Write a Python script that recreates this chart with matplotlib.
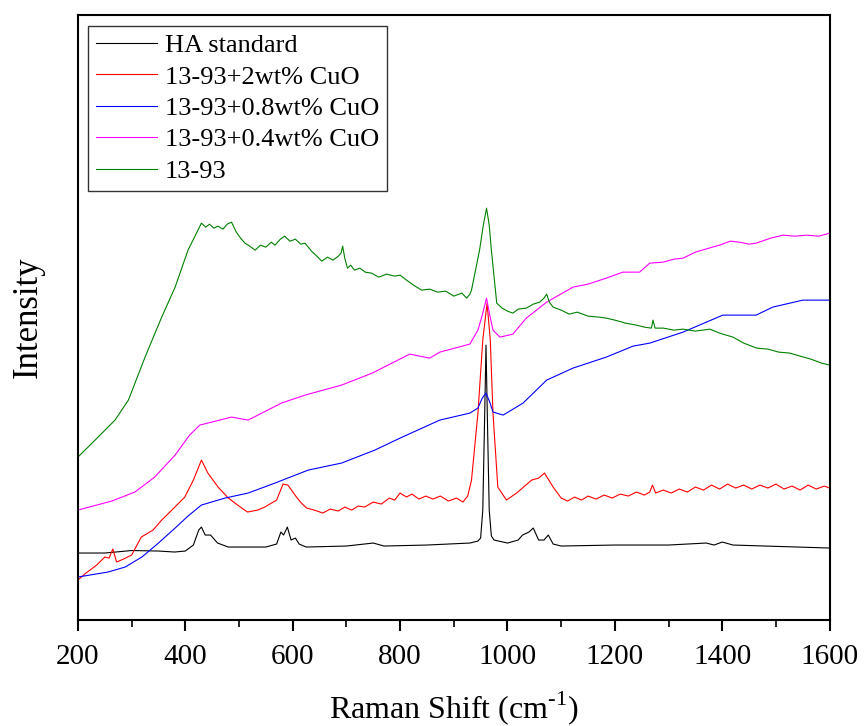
import matplotlib
matplotlib.use('Agg')
import matplotlib.pyplot as plt
from matplotlib.ticker import MultipleLocator

plt.rcParams['font.family'] = ['Liberation Serif', 'DejaVu Serif']
plt.rcParams['mathtext.fontset'] = 'custom'
plt.rcParams['mathtext.rm'] = 'Liberation Serif'

# Raman shift (cm-1) and intensity (a.u.)
black_x = [200, 250, 300, 350, 380, 400, 415, 425, 430, 437, 447, 460, 480, 550, 570, 578, 583,
           590, 597, 605, 612, 625, 700, 750, 770, 850, 930, 945, 950, 954, 957, 960, 963, 966,
           970, 975, 1000, 1020, 1028, 1040, 1048, 1058, 1068, 1076, 1085, 1100, 1200, 1300,
           1370, 1385, 1400, 1420, 1600]
black_y = [67, 67, 69.5, 69, 68, 69, 75, 90, 93, 85, 85, 77, 73, 73, 76, 88, 85,
           93, 80, 82, 76, 73, 74, 77, 74, 75, 77, 79, 82, 110, 190, 275, 190, 110,
           84, 80, 77, 80, 85, 88, 92, 80, 80, 85, 76, 74, 75, 75,
           77, 75, 78, 75, 72]

red_x = [200, 215, 235, 250, 258, 265, 272, 285, 300, 318, 340, 356, 375, 399, 415, 430, 442,
         461, 480, 505, 516, 535, 548, 570, 582, 591, 607, 616, 626, 640, 656, 670, 685, 697,
         710, 722, 734, 750, 765, 780, 790, 800, 812, 822, 835, 848, 861, 875, 890, 905, 917,
         926, 933, 945, 954, 962, 968, 973, 982, 998, 1017, 1030, 1045, 1058, 1069, 1085,
         1100, 1112, 1125, 1138, 1150, 1165, 1180, 1195, 1210, 1225, 1240, 1255, 1265, 1270,
         1276, 1290, 1305, 1320, 1335, 1350, 1365, 1380, 1395, 1410, 1425, 1440, 1455, 1470,
         1485, 1500, 1515, 1530, 1545, 1560, 1575, 1590, 1600]
red_y = [40, 47, 55, 63, 62, 71, 58, 61, 65, 83, 90, 100, 110, 123, 140, 160, 147,
         133, 122, 112, 108, 110, 113, 120, 136, 135, 123, 117, 112, 110, 107, 111, 109, 113,
         110, 114, 113, 118, 116, 122, 120, 127, 123, 126, 121, 124, 121, 124, 119, 122, 118,
         124, 140, 207, 280, 317, 280, 207, 133, 120, 127, 133, 140, 142, 147, 133,
         122, 119, 123, 120, 124, 121, 125, 122, 126, 124, 128, 125, 128, 135,
         127, 130, 127, 131, 128, 133, 130, 135, 131, 136, 132, 135, 131, 135,
         132, 136, 131, 134, 130, 135, 131, 134, 132]

blue_x = [200, 256, 288, 319, 350, 381, 405, 430, 474, 517, 567, 629, 691, 753, 800, 874, 930,
          945, 953, 960, 967, 973, 992, 1029, 1073, 1122, 1184, 1234, 1265, 1327, 1401, 1463,
          1494, 1550, 1600]
blue_y = [43, 48, 53, 63, 77, 92, 104, 115, 122, 127, 137, 150, 157, 170, 182, 200, 207,
          212, 222, 227, 218, 208, 205, 217, 240, 252, 263, 274, 277, 288, 305, 305,
          313, 320, 320]

mag_x = [200, 263, 306, 343, 381, 408, 427, 486, 517, 579, 623, 691, 748, 818, 855, 874, 930,
         945, 953, 961, 967, 973, 986, 1010, 1035, 1073, 1122, 1150, 1184, 1215, 1246, 1265,
         1290, 1310, 1327, 1350, 1375, 1395, 1415, 1432, 1450, 1463, 1490, 1513, 1535, 1557,
         1580, 1600]
mag_y = [110, 119, 128, 143, 165, 185, 195, 203, 200, 217, 225, 235, 247, 266, 262, 268, 276,
         290, 305, 322, 305, 290, 283, 286, 302, 318, 333, 336, 342, 348, 348, 357,
         358, 361, 362, 368, 372, 375, 379, 378, 376, 377, 382, 385, 384, 385,
         384, 387]

green_x = [200, 232, 269, 294, 325, 356, 381, 405, 430, 438, 445, 453, 461, 470, 478, 486, 495,
           503, 511, 520, 530, 540, 550, 560, 567, 577, 585, 595, 605, 615, 623, 635, 645, 654,
           665, 675, 685, 690, 693, 697, 702, 708, 715, 725, 735, 747, 760, 775, 790, 800, 812,
           825, 840, 855, 870, 885, 900, 915, 924, 930, 933, 948, 955, 961, 966, 970, 980, 990,
           1000, 1010, 1020, 1035, 1048, 1060, 1068, 1073, 1078, 1085, 1100, 1115, 1130, 1150,
           1170, 1184, 1200, 1220, 1240, 1255, 1268, 1271, 1275, 1290, 1310, 1327, 1350, 1377,
           1395, 1420, 1440, 1464, 1485, 1505, 1526, 1545, 1565, 1585, 1600]
green_y = [163, 180, 200, 220, 263, 303, 333, 370, 397, 393, 396, 392, 394, 391, 396, 398, 388,
           382, 377, 374, 370, 375, 373, 378, 375, 381, 384, 379, 381, 376, 377, 369, 364, 359,
           363, 360, 364, 367, 374, 362, 352, 355, 350, 352, 348, 347, 343, 346, 344, 345, 340,
           335, 330, 331, 328, 329, 324, 327, 322, 326, 330, 370, 395, 412, 395, 370, 317, 312,
           309, 307, 311, 312, 316, 318, 322, 326, 318, 313, 310, 306, 308, 304,
           303, 302, 300, 297, 295, 293, 292, 300, 292, 292, 290, 291, 289, 291,
           287, 283, 277, 272, 271, 268, 267, 264, 261, 257, 255]

labels = ['HA standard', '13-93+2wt% CuO', '13-93+0.8wt% CuO', '13-93+0.4wt% CuO', '13-93']
colors = ['black', 'red', 'blue', 'magenta', 'green']

fig = plt.figure(figsize=(8.66, 7.26), dpi=100)
ax = fig.add_axes([0.090, 0.146, 0.868, 0.833])

series = [(black_x, black_y), (red_x, red_y), (blue_x, blue_y), (mag_x, mag_y), (green_x, green_y)]
for (x, y), c, lab in zip(series, colors, labels):
    ax.plot(x, y, color=c, lw=0.8, label=lab)

ax.set_xlim(200, 1600)
ax.set_ylim(0, 605)
ax.xaxis.set_major_locator(MultipleLocator(200))
ax.xaxis.set_minor_locator(MultipleLocator(100))
ax.tick_params(axis='x', which='major', direction='out', length=8, width=1.5, labelsize=21, pad=9)
ax.tick_params(axis='x', which='minor', direction='out', length=5, width=1.2)
ax.tick_params(axis='y', left=False, labelleft=False)
for s in ax.spines.values():
    s.set_linewidth(1.5)

ax.set_xlabel(r'Raman Shift (cm$^{\mathrm{\text{-1}}}$)', fontsize=23, labelpad=14)
ax.set_ylabel('Intensity', fontsize=25, labelpad=24)

leg = ax.legend(loc='upper left', fontsize=19, frameon=True, fancybox=False, framealpha=1,
                edgecolor='#333333', handlelength=2.3, handletextpad=0.3, labelspacing=0.3,
                borderpad=0.3, borderaxespad=0.4)
leg.get_frame().set_linewidth(1.0)

fig.savefig('out.png', dpi=100)
